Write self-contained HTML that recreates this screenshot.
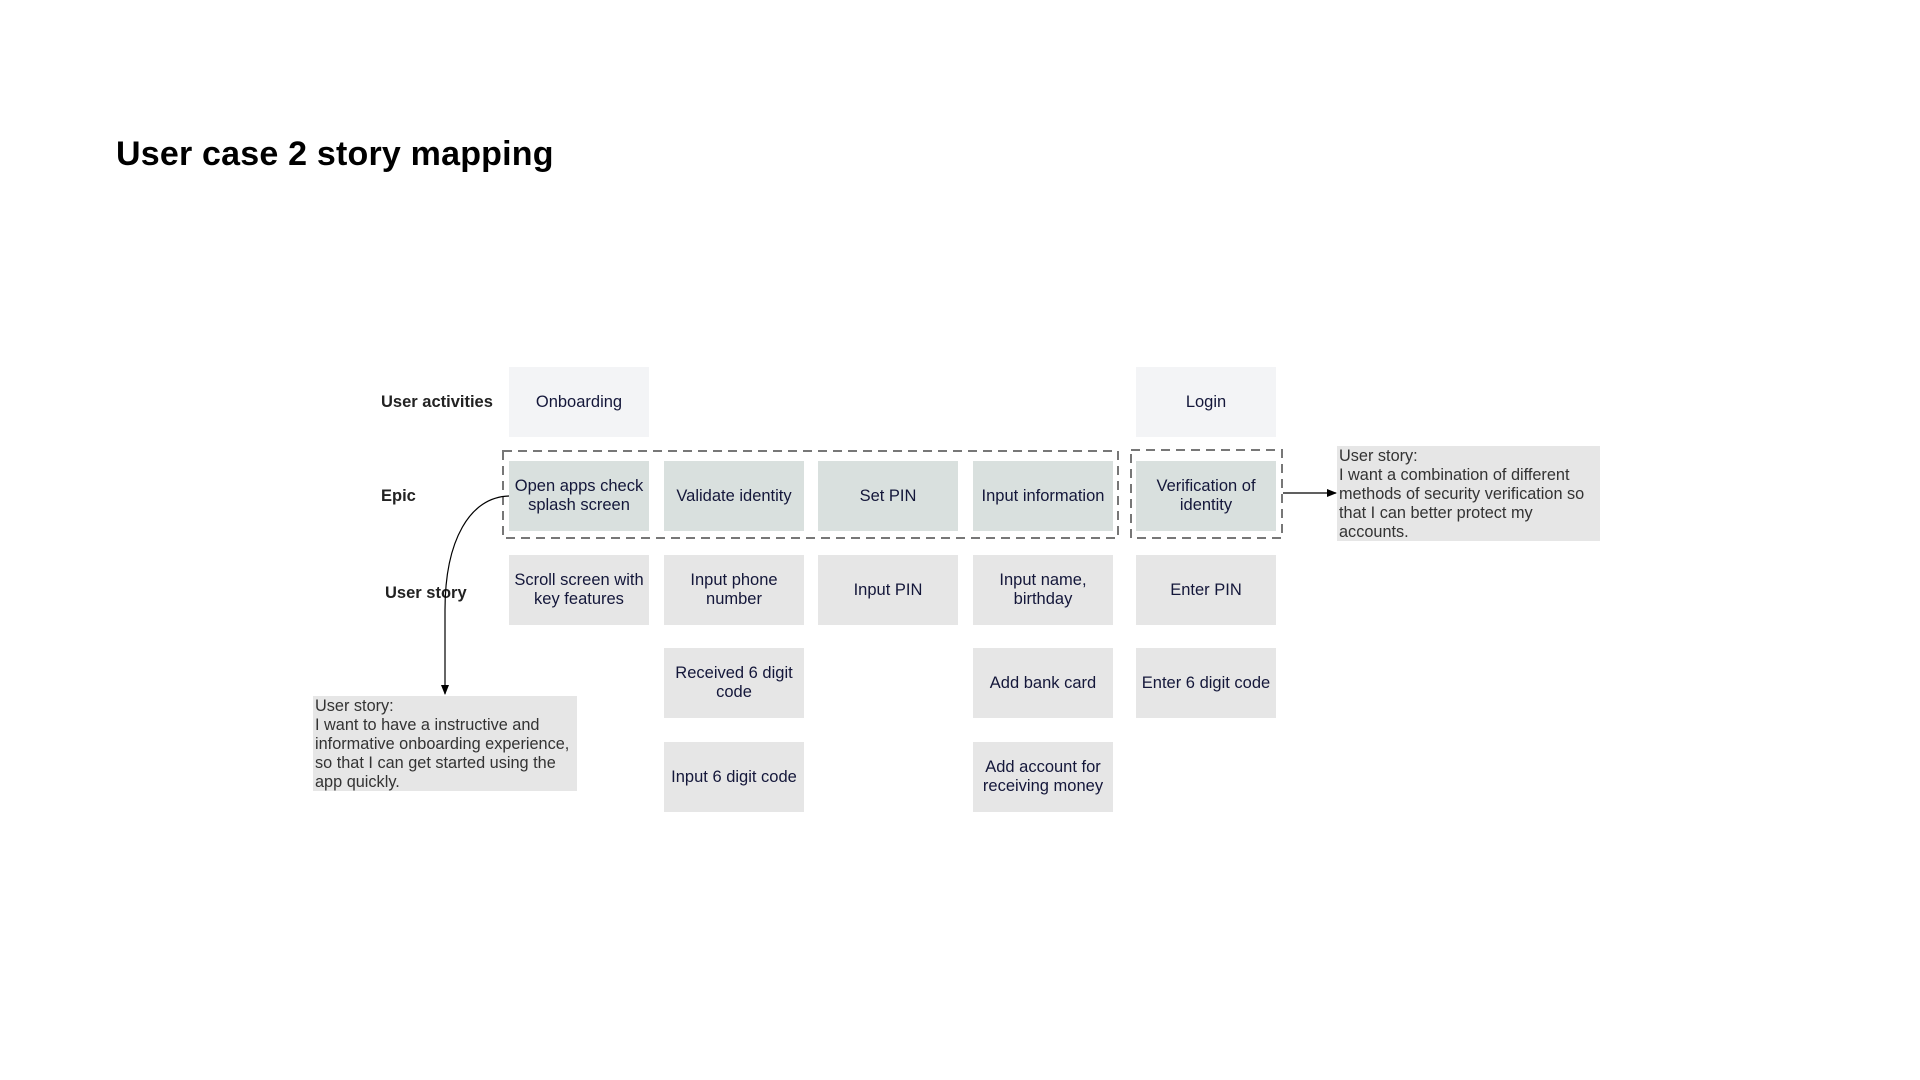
<!DOCTYPE html>
<html>
<head>
<meta charset="utf-8">
<style>
  html,body{margin:0;padding:0;background:#fff;}
  body{width:1920px;height:1080px;position:relative;overflow:hidden;font-family:"Liberation Sans",Arial,sans-serif;}
  .title{position:absolute;left:116px;top:135px;font-size:34px;font-weight:bold;color:#000;letter-spacing:0.2px;}
  .lbl{position:absolute;font-size:16.5px;font-weight:bold;color:#222;}
  .box{position:absolute;width:140px;height:70px;display:flex;align-items:center;justify-content:center;text-align:center;font-size:16.5px;line-height:19px;color:#14173a;box-sizing:border-box;padding:0 3px;}
  .act{background:#f3f4f6;}
  .epic{background:#d9e0de;}
  .story{background:#e6e6e6;}
  .note{position:absolute;background:#e6e6e6;font-size:16.3px;line-height:19px;color:#333;box-sizing:border-box;padding:1px 2px;}
  svg{position:absolute;left:0;top:0;}
</style>
</head>
<body>
<div class="title">User case 2 story mapping</div>

<div class="lbl" style="left:381px;top:393px;">User activities</div>
<div class="lbl" style="left:381px;top:487px;">Epic</div>
<div class="lbl" style="left:385px;top:584px;">User story</div>

<div class="box act" style="left:509px;top:367px;">Onboarding</div>
<div class="box act" style="left:1136px;top:367px;">Login</div>

<div class="box epic" style="left:509px;top:461px;">Open apps check splash screen</div>
<div class="box epic" style="left:664px;top:461px;">Validate identity</div>
<div class="box epic" style="left:818px;top:461px;">Set PIN</div>
<div class="box epic" style="left:973px;top:461px;">Input information</div>
<div class="box epic" style="left:1136px;top:461px;">Verification of identity</div>

<div class="box story" style="left:509px;top:555px;">Scroll screen with key features</div>
<div class="box story" style="left:664px;top:555px;">Input phone number</div>
<div class="box story" style="left:818px;top:555px;">Input PIN</div>
<div class="box story" style="left:973px;top:555px;">Input name, birthday</div>
<div class="box story" style="left:1136px;top:555px;">Enter PIN</div>

<div class="box story" style="left:664px;top:648px;">Received 6 digit code</div>
<div class="box story" style="left:973px;top:648px;">Add bank card</div>
<div class="box story" style="left:1136px;top:648px;">Enter 6 digit code</div>

<div class="box story" style="left:664px;top:742px;">Input 6 digit code</div>
<div class="box story" style="left:973px;top:742px;">Add account for receiving money</div>

<div class="note" style="left:1337px;top:446px;width:263px;height:95px;">User story:<br>I want a combination of different methods of security verification so that I can better protect my accounts.</div>
<div class="note" style="left:313px;top:696px;width:264px;height:95px;">User story:<br>I want to have a instructive and informative onboarding experience, so that I can get started using the app quickly.</div>

<svg width="1920" height="1080">
  <defs>
    <marker id="ah" markerWidth="10" markerHeight="8" refX="9" refY="4" orient="auto" markerUnits="userSpaceOnUse">
      <path d="M0,0 L10,4 L0,8 Z" fill="#000"/>
    </marker>
  </defs>
  <rect x="503" y="451" width="615" height="87" fill="none" stroke="#777" stroke-width="2" stroke-dasharray="9,6"/>
  <rect x="1131" y="450" width="151" height="88" fill="none" stroke="#777" stroke-width="2" stroke-dasharray="9,6"/>
  <path d="M1283,493 L1336,493" stroke="#000" stroke-width="1.2" fill="none" marker-end="url(#ah)"/>
  <path d="M509,496 C470,497 445,540 445,610 L445,694" stroke="#000" stroke-width="1.2" fill="none" marker-end="url(#ah)"/>
</svg>
</body>
</html>
